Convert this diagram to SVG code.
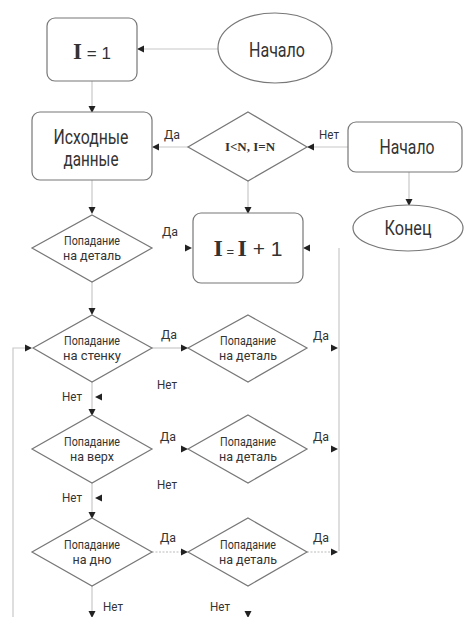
<svg xmlns="http://www.w3.org/2000/svg" xmlns:xlink="http://www.w3.org/1999/xlink" width="464" height="617" viewBox="0 0 464 617">
<style>
.bg{fill:#fff}
.shape{fill:#fff;stroke:#777;stroke-width:1.2}
.ln{fill:none;stroke:#c8c8c8;stroke-width:1.2}
.dot{fill:none;stroke:#bbb;stroke-width:1.2;stroke-dasharray:2 1.5}
.t{font-family:Roboto,"Liberation Sans",sans-serif;fill:#333;text-anchor:middle}
.big{font-size:20px}
.sm{font-size:13px}
.lbl{font-family:Roboto,"Liberation Sans",sans-serif;fill:#333;font-size:12px;text-anchor:middle}
.ser{font-family:"Liberation Serif",serif;font-weight:bold;fill:#333}
.ah{fill:#222}
</style>
<defs>
<path id="ah" d="M0,0 L-7,-3.5 L-7,3.5 Z"/>
</defs>
<rect class="bg" x="0" y="0" width="464" height="617"/>

<g id="connectors">
<path class="ln" d="M218,49 H140"/>
<path class="ln" d="M92,81 V109"/>
<path class="ln" d="M188,147 H155"/>
<path class="ln" d="M348,147 H310"/>
<path class="ln" d="M409,172 V202"/>
<path class="ln" d="M248,181 V210"/>
<path class="ln" d="M92,180 V211"/>
<path class="ln" d="M339,248 V551"/>
<path class="ln" d="M92,282 V312"/>
<path class="ln" d="M152,348 H184"/>
<path class="ln" d="M92,382 V412"/>
<path class="ln" d="M92,483 V515"/>
<path class="dot" d="M152,552 H184"/>
<path class="dot" d="M307,552 H334"/>
<path class="ln" d="M92,586 V612"/>
<path class="ln" d="M13,617 V348 H26"/>

<g class="ah">
<use xlink:href="#ah" transform="translate(137,49) rotate(180)"/>
<use xlink:href="#ah" transform="translate(92,113) rotate(90)"/>
<use xlink:href="#ah" transform="translate(152,147) rotate(180)"/>
<use xlink:href="#ah" transform="translate(307,147) rotate(180)"/>
<use xlink:href="#ah" transform="translate(409,206) rotate(90)"/>
<use xlink:href="#ah" transform="translate(248,214) rotate(90)"/>
<use xlink:href="#ah" transform="translate(92,214) rotate(90)"/>
<use xlink:href="#ah" transform="translate(192,248)"/>
<use xlink:href="#ah" transform="translate(303,248) rotate(180)"/>
<use xlink:href="#ah" transform="translate(92,315) rotate(90)"/>
<use xlink:href="#ah" transform="translate(32,348)"/>
<use xlink:href="#ah" transform="translate(188,348)"/>
<use xlink:href="#ah" transform="translate(338,348)"/>
<use xlink:href="#ah" transform="translate(95,397) rotate(180)"/>
<use xlink:href="#ah" transform="translate(92,416) rotate(90)"/>
<use xlink:href="#ah" transform="translate(188,449)"/>
<use xlink:href="#ah" transform="translate(338,449)"/>
<use xlink:href="#ah" transform="translate(95,498) rotate(180)"/>
<use xlink:href="#ah" transform="translate(92,519) rotate(90)"/>
<use xlink:href="#ah" transform="translate(188,552)"/>
<use xlink:href="#ah" transform="translate(338,552)"/>
<use xlink:href="#ah" transform="translate(92,618) rotate(90)"/>
<use xlink:href="#ah" transform="translate(248,618) rotate(90)"/>
</g>

<text class="lbl" x="172" y="139" textLength="16" lengthAdjust="spacingAndGlyphs">Да</text>
<text class="lbl" x="329" y="139" textLength="20" lengthAdjust="spacingAndGlyphs">Нет</text>
<text class="lbl" x="170" y="236" textLength="16" lengthAdjust="spacingAndGlyphs">Да</text>
<text class="lbl" x="169" y="339" textLength="16" lengthAdjust="spacingAndGlyphs">Да</text>
<text class="lbl" x="321" y="340" textLength="16" lengthAdjust="spacingAndGlyphs">Да</text>
<text class="lbl" x="167" y="389" textLength="20" lengthAdjust="spacingAndGlyphs">Нет</text>
<text class="lbl" x="72" y="401" textLength="20" lengthAdjust="spacingAndGlyphs">Нет</text>
<text class="lbl" x="168" y="441" textLength="16" lengthAdjust="spacingAndGlyphs">Да</text>
<text class="lbl" x="321" y="441" textLength="16" lengthAdjust="spacingAndGlyphs">Да</text>
<text class="lbl" x="167" y="489" textLength="20" lengthAdjust="spacingAndGlyphs">Нет</text>
<text class="lbl" x="72" y="502" textLength="20" lengthAdjust="spacingAndGlyphs">Нет</text>
<text class="lbl" x="168" y="542" textLength="16" lengthAdjust="spacingAndGlyphs">Да</text>
<text class="lbl" x="321" y="542" textLength="16" lengthAdjust="spacingAndGlyphs">Да</text>
<text class="lbl" x="113" y="611" textLength="20" lengthAdjust="spacingAndGlyphs">Нет</text>
<text class="lbl" x="220" y="611" textLength="20" lengthAdjust="spacingAndGlyphs">Нет</text>
</g>

<g id="start1">
<ellipse class="shape" cx="275" cy="48" rx="57" ry="35"/>
<text class="t big" x="277" y="57" textLength="56" lengthAdjust="spacingAndGlyphs">Начало</text>
</g>

<g id="init">
<rect class="shape" x="47" y="18" width="90" height="63" rx="8"/>
<text x="92" y="59" text-anchor="middle"><tspan class="ser" font-size="23">I</tspan><tspan font-family="Liberation Sans, sans-serif" font-size="17" fill="#333"> = 1</tspan></text>
</g>

<g id="input">
<rect class="shape" x="32" y="112" width="120" height="68" rx="8"/>
<text class="t big" x="91" y="144" textLength="75" lengthAdjust="spacingAndGlyphs">Исходные</text>
<text class="t big" x="91" y="166" textLength="55" lengthAdjust="spacingAndGlyphs">данные</text>
</g>

<g id="cond">
<polygon class="shape" points="248,112 307,147 248,181 188,147"/>
<text class="ser" x="250" y="151" font-size="13" text-anchor="middle">I&lt;N, I=N</text>
</g>

<g id="start2">
<rect class="shape" x="348" y="122" width="114" height="50" rx="8"/>
<text class="t big" x="407" y="154" textLength="55" lengthAdjust="spacingAndGlyphs">Начало</text>
</g>

<g id="end">
<ellipse class="shape" cx="408" cy="228" rx="55" ry="23"/>
<text class="t big" x="408" y="235" textLength="47" lengthAdjust="spacingAndGlyphs">Конец</text>
</g>

<g id="incr">
<rect class="shape" x="193" y="213" width="110" height="70" rx="8"/>
<text x="248" y="256" text-anchor="middle"><tspan class="ser" font-size="24">I</tspan><tspan font-family="Liberation Sans, sans-serif" font-size="13" fill="#333"> = </tspan><tspan class="ser" font-size="24">I</tspan><tspan font-family="Liberation Sans, sans-serif" font-size="21" fill="#333"> + 1</tspan></text>
</g>

<g id="hit1">
<polygon class="shape" points="92,215 152,248 92,282 32,248"/>
<text class="t sm" x="92" y="245" textLength="56" lengthAdjust="spacingAndGlyphs">Попадание</text>
<text class="t sm" x="92" y="260" textLength="58" lengthAdjust="spacingAndGlyphs">на деталь</text>
</g>

<g id="wall">
<polygon class="shape" points="92,315 152,348 92,382 33,348"/>
<text class="t sm" x="92" y="345" textLength="56" lengthAdjust="spacingAndGlyphs">Попадание</text>
<text class="t sm" x="92" y="360" textLength="58" lengthAdjust="spacingAndGlyphs">на стенку</text>
</g>

<g id="hit2">
<polygon class="shape" points="248,315 307,348 248,382 188,348"/>
<text class="t sm" x="248" y="345" textLength="56" lengthAdjust="spacingAndGlyphs">Попадание</text>
<text class="t sm" x="248" y="360" textLength="58" lengthAdjust="spacingAndGlyphs">на деталь</text>
</g>

<g id="top">
<polygon class="shape" points="92,415 152,449 92,483 32,449"/>
<text class="t sm" x="92" y="446" textLength="56" lengthAdjust="spacingAndGlyphs">Попадание</text>
<text class="t sm" x="92" y="461" textLength="44" lengthAdjust="spacingAndGlyphs">на верх</text>
</g>

<g id="hit3">
<polygon class="shape" points="248,415 307,449 248,483 188,449"/>
<text class="t sm" x="248" y="446" textLength="56" lengthAdjust="spacingAndGlyphs">Попадание</text>
<text class="t sm" x="248" y="461" textLength="58" lengthAdjust="spacingAndGlyphs">на деталь</text>
</g>

<g id="bottom">
<polygon class="shape" points="92,518 152,552 92,586 32,552"/>
<text class="t sm" x="92" y="549" textLength="56" lengthAdjust="spacingAndGlyphs">Попадание</text>
<text class="t sm" x="92" y="564" textLength="39" lengthAdjust="spacingAndGlyphs">на дно</text>
</g>

<g id="hit4">
<polygon class="shape" points="248,518 307,552 248,586 188,552"/>
<text class="t sm" x="248" y="549" textLength="56" lengthAdjust="spacingAndGlyphs">Попадание</text>
<text class="t sm" x="248" y="564" textLength="58" lengthAdjust="spacingAndGlyphs">на деталь</text>
</g>
</svg>
